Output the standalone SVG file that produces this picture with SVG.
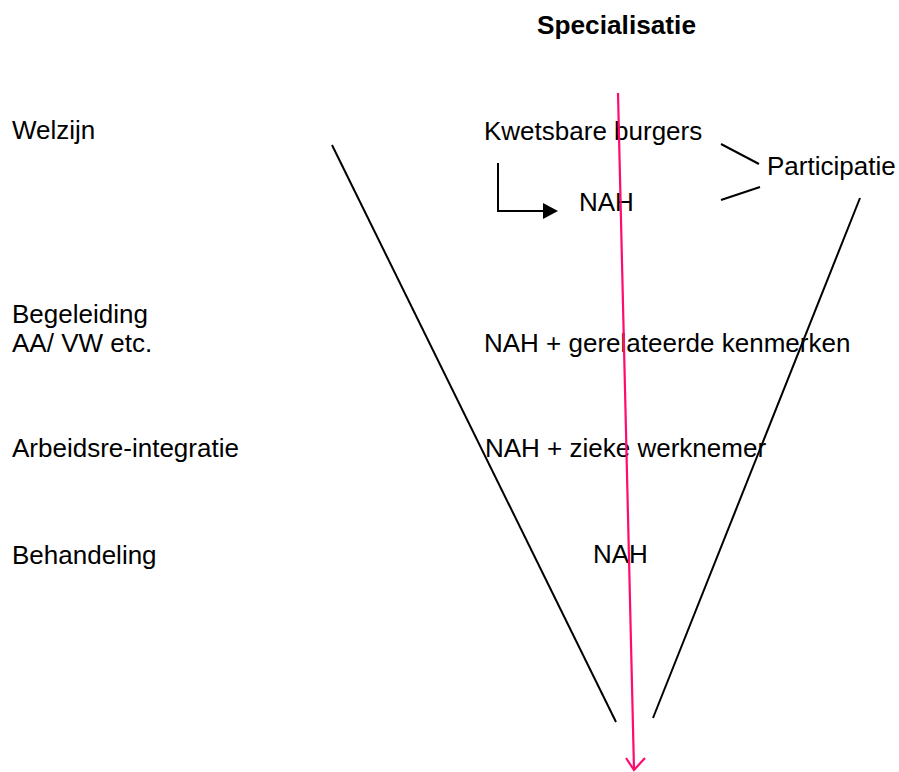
<svg xmlns="http://www.w3.org/2000/svg" width="899" height="772" viewBox="0 0 899 772">
<style>
text{font-family:"Liberation Sans",Arial,sans-serif;font-size:26px;fill:#000}
.b{font-weight:bold}
.k{stroke:#000;stroke-width:2;fill:none}
.p{stroke:#ff0a6e;stroke-width:2.2;fill:none}
</style>
<rect width="899" height="772" fill="#fff"/>
<g id="title"><text class="b" x="537" y="34" textLength="159" lengthAdjust="spacingAndGlyphs">Specialisatie</text></g>
<g id="labels-left">
<text x="12" y="139">Welzijn</text>
<text x="12" y="323">Begeleiding</text>
<text x="12" y="352">AA/ VW etc.</text>
<text x="12" y="457">Arbeidsre-integratie</text>
<text x="12" y="564">Behandeling</text>
</g>
<g id="n-kwetsbaar"><text x="484" y="140">Kwetsbare burgers</text></g>
<g id="n-nah1"><text x="579" y="211">NAH</text></g>
<g id="n-participatie"><text x="767" y="175">Participatie</text></g>
<g id="n-nah-gerel"><text x="484" y="352">NAH + gerelateerde kenmerken</text></g>
<g id="n-nah-zieke"><text x="485" y="457">NAH + zieke werknemer</text></g>
<g id="n-nah2"><text x="593" y="563">NAH</text></g>
<g id="connectors">
<line class="k" x1="332" y1="145" x2="616" y2="722"/>
<line class="k" x1="860" y1="198" x2="653" y2="718"/>
<line class="k" x1="721" y1="144" x2="759" y2="164"/>
<line class="k" x1="721" y1="200" x2="760" y2="187"/>
<polyline class="k" points="498,163 498,211 544,211"/>
<polygon points="543,203 558,211 543,219" fill="#000"/>
<line class="p" x1="618" y1="93" x2="634" y2="770"/>
<polyline class="p" points="626,758 634,770 645,758"/>
</g>
</svg>
